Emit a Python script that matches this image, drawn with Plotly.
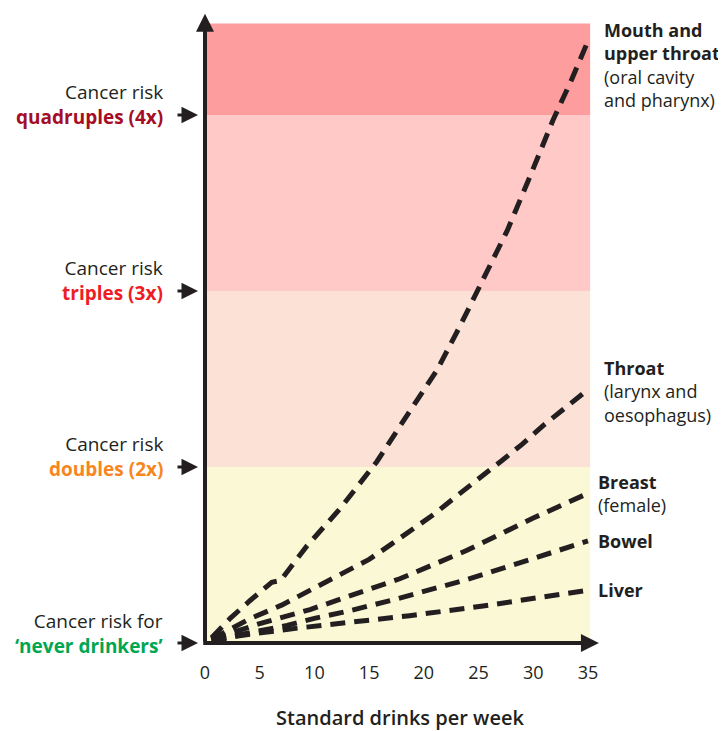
import plotly.graph_objects as go

# ---------------- data ----------------
x_ticks = [0, 5, 10, 15, 20, 25, 30, 35]

mouth_x = [0.6, 2.3, 4.1, 6.1, 6.9, 7.8, 9.3, 12.3, 15.7, 17.8, 20, 21.2, 23.3, 25.1, 27.6, 29.7, 31.8, 33.5, 35]
mouth_y = [1.03, 1.14, 1.24, 1.345, 1.355, 1.43, 1.55, 1.76, 2.03, 2.23, 2.44, 2.55, 2.80, 3.03, 3.34, 3.65, 3.97, 4.2, 4.42]

throat_x = [0.6, 4, 7, 9, 11, 13, 15, 17, 19, 21, 23, 25, 27, 29, 31, 33, 35]
throat_y = [1.02, 1.135, 1.215, 1.28, 1.345, 1.405, 1.475, 1.56, 1.645, 1.735, 1.835, 1.93, 2.03, 2.13, 2.24, 2.34, 2.44]

breast_x = [0.6, 5, 9.6, 13.9, 17.8, 23.9, 30, 35]
breast_y = [1.02, 1.11, 1.19, 1.28, 1.365, 1.525, 1.71, 1.85]

bowel_x = [0.6, 5, 7.5, 10, 13, 17.5, 23.9, 30, 35]
bowel_y = [1.015, 1.07, 1.10, 1.14, 1.18, 1.25, 1.36, 1.48, 1.58]

liver_x = [0.6, 3, 7.8, 12.3, 16.9, 18.7, 25.4, 30, 35]
liver_y = [1.01, 1.04, 1.08, 1.11, 1.14, 1.155, 1.21, 1.25, 1.30]

band_levels = [1, 2, 3, 4, 4.52]
band_colors = ["#fbf8d6", "#fce1d6", "#ffc9c8", "#fe9d9e"]

risk_levels = [1, 2, 3, 4]
risk_top = ["Cancer risk for", "Cancer risk", "Cancer risk", "Cancer risk"]
risk_labels = ["\u2018never drinkers\u2019", "doubles (2x)", "triples (3x)", "quadruples (4x)"]
risk_colors = ["#00a651", "#f7861f", "#ee1c25", "#a50d26"]

series = [
    ("mouth", mouth_x, mouth_y, "<b>Mouth and</b><br><b>upper throat</b><br>(oral cavity<br>and pharynx)", 14, -24),
    ("throat", throat_x, throat_y, "<b>Throat</b><br>(larynx and<br>oesophagus)", 14, -2),
    ("breast", breast_x, breast_y, "<b>Breast</b><br>(female)", 8, 0),
    ("bowel", bowel_x, bowel_y, "<b>Bowel</b>", 8, 0),
    ("liver", liver_x, liver_y, "<b>Liver</b>", 8, 0),
]

INK = "#231f20"
FONT = "Open Sans"

# ---------------- figure ----------------
fig = go.Figure()

for name, xs, ys, _, _, _ in series:
    fig.add_trace(go.Scatter(
        x=xs, y=ys, mode="lines", name=name,
        line=dict(color=INK, width=5, dash="15px,9px"),
        hoverinfo="skip", showlegend=False,
    ))

shapes = []
for i, c in enumerate(band_colors):
    shapes.append(dict(type="rect", xref="x", yref="y", x0=0, x1=35.2,
                       y0=band_levels[i], y1=band_levels[i + 1],
                       fillcolor=c, line=dict(width=0), layer="below"))

annotations = []
# axes with arrowheads
annotations.append(dict(x=0, y=4.575, ax=0, ay=1, xref="x", yref="y", axref="x", ayref="y",
                        showarrow=True, arrowhead=2, arrowsize=0.9, arrowwidth=4,
                        arrowcolor=INK, text=""))
annotations.append(dict(x=36.0, y=1, ax=-0.3, ay=1, xref="x", yref="y", axref="x", ayref="y",
                        showarrow=True, arrowhead=2, arrowsize=0.9, arrowwidth=4,
                        arrowcolor=INK, text=""))

# left risk labels and arrows
for lvl, top, lab, col in zip(risk_levels, risk_top, risk_labels, risk_colors):
    annotations.append(dict(x=0, y=lvl, xref="x", yref="y", text="", showarrow=True,
                            ax=-29, ay=0, standoff=7, arrowhead=2, arrowsize=1.1,
                            arrowwidth=3, arrowcolor=INK))
    annotations.append(dict(x=0, y=lvl, xref="x", yref="y",
                            text="%s<br><span style='color:%s'><b>%s</b></span>" % (top, col, lab),
                            showarrow=False, xanchor="right", yanchor="middle", align="right",
                            xshift=-40, yshift=10,
                            font=dict(family=FONT, size=19, color=INK)))

# right series labels
for name, xs, ys, txt, xs_shift, ys_shift in series:
    annotations.append(dict(x=xs[-1], y=ys[-1], xref="x", yref="y", text=txt,
                            showarrow=False, xanchor="left", yanchor="middle",
                            align="left", xshift=xs_shift, yshift=ys_shift,
                            font=dict(family=FONT, size=18, color=INK)))

# x-axis title
annotations.append(dict(x=17.8, y=0, xref="x", yref="paper", text="Standard drinks per week",
                        showarrow=False, xanchor="center", yanchor="middle", yshift=-74,
                        font=dict(family=FONT, size=20, color=INK, weight=600)))

fig.update_layout(
    width=718, height=723,
    margin=dict(l=197, r=126, t=4, b=88),
    plot_bgcolor="white", paper_bgcolor="white",
    shapes=shapes, annotations=annotations,
    showlegend=False,
    xaxis=dict(range=[0, 36.1], tickvals=x_ticks, ticktext=[str(v) for v in x_ticks],
               showgrid=False, zeroline=False, showline=False, ticks="",
               ticklabelstandoff=17,
               tickfont=dict(family=FONT, size=18, color=INK)),
    yaxis=dict(range=[1, 4.585], showgrid=False, zeroline=False, showline=False,
               showticklabels=False, ticks=""),
)

fig.write_html("out.html")
